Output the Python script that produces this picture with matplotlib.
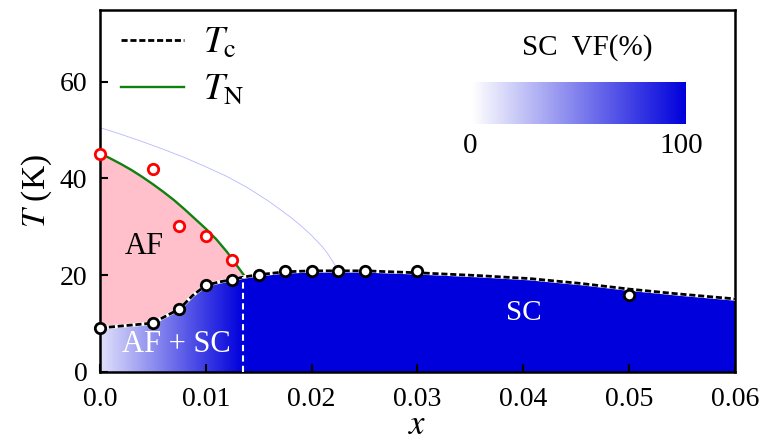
import matplotlib.pyplot as plt
import numpy as np
from matplotlib.colors import LinearSegmentedColormap

plt.rcParams['font.family'] = ['Liberation Serif', 'DejaVu Serif']
plt.rcParams['mathtext.fontset'] = 'stix'

# T_N data (red open circles) and T_N curve (green)
tn_x = [0.0, 0.005, 0.0075, 0.01, 0.0125]
tn_T = [45, 42, 30.2, 28, 23.1]
tn_fit_x = [0.0, 0.001, 0.002, 0.003, 0.004, 0.005, 0.006, 0.007, 0.008,
            0.009, 0.010, 0.011, 0.012, 0.013, 0.0136]
tn_fit_T = [45.2, 44.1, 42.95, 41.7, 40.3, 38.8, 37.2, 35.5, 33.6,
            31.6, 29.6, 27.4, 24.8, 21.8, 20.0]

# T_c data (black open circles) and T_c curve (dashed)
tc_x = [0.0, 0.005, 0.0075, 0.01, 0.0125, 0.015, 0.0175, 0.02, 0.0225, 0.025, 0.03, 0.05]
tc_T = [9.1, 10.1, 13.0, 18.0, 19.0, 20.0, 20.9, 20.9, 20.9, 20.9, 20.9, 16.0]
tc_curve_x = [0.0, 0.005, 0.006, 0.0075, 0.00875, 0.01, 0.01125, 0.0125, 0.0135, 0.015,
              0.0175, 0.02, 0.025, 0.03, 0.0359, 0.0406, 0.0454, 0.0501, 0.0548, 0.06]
tc_curve_T = [9.1, 10.1, 11.3, 13.0, 15.8, 17.9, 18.6, 19.1, 19.6, 20.1,
              20.7, 20.9, 20.9, 20.5, 19.9, 19.3, 18.3, 17.1, 16.1, 15.1]

# faint extrapolated line
ext_x = [0.0, 0.002, 0.004, 0.006, 0.008, 0.010, 0.012, 0.014, 0.016, 0.017,
         0.018, 0.019, 0.020, 0.021, 0.0215, 0.022, 0.0225]
ext_T = [50.5, 49.1, 47.6, 46.0, 44.3, 42.4, 40.4, 38.0, 35.2, 33.6,
         32.0, 30.2, 28.2, 25.9, 24.5, 22.8, 21.0]

# SC volume fraction (%) vs x
vf_x = [0.0, 0.0135, 0.06]
vf_pct = [12, 100, 100]
x_boundary = 0.0135

blue = '#0000dc'
cmap = LinearSegmentedColormap.from_list('vf', ['white', blue])

fig = plt.figure(figsize=(7.61, 4.44), dpi=100)
ax = fig.add_axes([0.1314, 0.1622, 0.8344, 0.8153])

# SC gradient fill under Tc
xg = np.linspace(0, 0.06, 800)
vf_g = np.interp(xg, vf_x, vf_pct)
img = ax.imshow(vf_g[np.newaxis, :], extent=[0, 0.06, 0, 75], aspect='auto',
                cmap=cmap, vmin=0, vmax=100, origin='lower', zorder=1,
                interpolation='bilinear')
poly = ax.fill_between(tc_curve_x, 0, tc_curve_T, facecolor='none', edgecolor='none')
img.set_clip_path(poly.get_paths()[0], transform=ax.transData)

# AF pink region between Tc and TN
xa = np.linspace(0, x_boundary, 200)
ax.fill_between(xa, np.interp(xa, tc_curve_x, tc_curve_T),
                np.interp(xa, tn_fit_x, tn_fit_T), color='#ffc0cb', lw=0, zorder=1)

ax.plot(ext_x, ext_T, color='#7070ff', lw=0.6, alpha=0.5, zorder=2)
ax.plot(tn_fit_x, tn_fit_T, color='#108010', lw=1.7, zorder=3, label=r'$T_\mathrm{N}$')
ax.plot(tc_curve_x, tc_curve_T, color='white', lw=2.6, zorder=3)
ax.plot(tc_curve_x, tc_curve_T, color='black', lw=2, dashes=(2.2, 1), zorder=4,
        label=r'$T_\mathrm{c}$')
ax.plot([x_boundary, x_boundary], [0, np.interp(x_boundary, tc_curve_x, tc_curve_T)],
        color='white', lw=1.5, dashes=(3, 2), zorder=4)

ax.plot(tn_x, tn_T, 'o', mfc='white', mec='red', mew=2, ms=7.5, zorder=5, clip_on=False)
ax.plot(tc_x, tc_T, 'o', mfc='white', mec='black', mew=2, ms=7.5, zorder=5, clip_on=False)

ax.text(0.0042, 25.9, 'AF', fontsize=22, ha='center', va='center', zorder=6)
ax.text(0.00725, 5.6, 'AF + SC', fontsize=22, ha='center', va='center', color='white', zorder=6)
ax.text(0.0400, 12.2, 'SC', fontsize=21, ha='center', va='center', color='white', zorder=6)

ax.set_xlim(0, 0.06)
ax.set_ylim(0, 74.8)
ax.set_xticks([0, 0.01, 0.02, 0.03, 0.04, 0.05, 0.06])
ax.set_xticklabels(['0.0', '0.01', '0.02', '0.03', '0.04', '0.05', '0.06'])
ax.set_yticks([0, 20, 40, 60])
ax.tick_params(direction='in', length=6, width=1.5, labelsize=20)
ax.tick_params(axis='x', pad=11)
ax.tick_params(axis='y', pad=9)
for s in ax.spines.values():
    s.set_linewidth(1.8)
ax.set_xlabel(r'$x$', fontsize=25, labelpad=-2)
ax.set_ylabel(r'$T$ (K)', fontsize=24, labelpad=4)

handles, labels = ax.get_legend_handles_labels()
ax.legend(handles[::-1], labels[::-1], loc='upper left', frameon=False, fontsize=27,
          handlelength=1.7, handletextpad=0.5, labelspacing=0.35,
          borderaxespad=0.15, bbox_to_anchor=(0.0, 1.012))

# inset colour bar
cax = fig.add_axes([0.620, 0.7207, 0.2812, 0.0946])
cax.imshow(np.linspace(0, 100, 256)[np.newaxis, :], aspect='auto', cmap=cmap,
           vmin=0, vmax=100, extent=[0, 100, 0, 1])
cax.set_axis_off()
fig.text(587 / 761, 1 - 48 / 444, 'SC  VF(%)', fontsize=21, ha='center', va='center')
fig.text(470 / 761, 1 - 146 / 444, '0', fontsize=21, ha='center', va='center')
fig.text(681 / 761, 1 - 146 / 444, '100', fontsize=21, ha='center', va='center')

fig.savefig('out.png', dpi=100)
